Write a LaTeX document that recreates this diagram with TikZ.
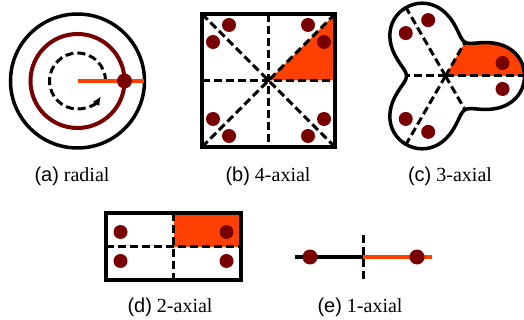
\documentclass[tikz,border=0pt]{standalone}
\usepackage{fontspec}
\setmainfont{Liberation Serif}
\setsansfont{Liberation Sans}
\usepackage{tikz}
\usetikzlibrary{calc, arrows.meta, positioning}
\definecolor{fireorange}{RGB}{255,64,0}
\definecolor{darkmaroon}{RGB}{120,0,0}
\tikzset{
    axisline/.style={line width=3pt, dash pattern=on 8pt off 4pt},
    frameline/.style={line width=4pt},
    pointdot/.style={fill=darkmaroon},
    caption/.style={font=\fontsize{20}{24}\selectfont, inner sep=0pt}
}
\newcommand{\capt}[2]{\textsf{(#1)}~#2}
% trefoil radius
\newcommand{\lobe}[1]{(61+20*cos(3*#1)-2*cos(6*#1))}

\begin{document}
\begin{tikzpicture}[>={Latex[length=9pt,width=8pt]}, x=1pt, y=-1pt]
    \useasboundingbox (0,0) rectangle (524,320);

    % 1. radial
    \coordinate (ra) at (77.5,81);
    \draw[line width=3.5pt] (ra) circle[radius=67];
    \draw[darkmaroon, line width=4pt] (ra) circle[radius=47];
    \draw[axisline, ->] ($(ra)+(0:28)$) arc[start angle=0, end angle=-327, radius=28];
    \draw[fireorange, line width=3.5pt] (ra) -- ++(66,0);
    \fill[pointdot] ($(ra)+(47,0)$) circle[radius=7.5];
    \node[caption] (capa) at (72,176) {\capt{a}{radial}};

    % 2. 4-axial
    \coordinate (fa) at (268.5,80.5);
    \fill[fireorange] (fa) -- ++(66.5,-66.5) -- ++(0,66.5) -- cycle;
    \draw[axisline] ($(fa)+(-66.5,0)$) -- ($(fa)+(66.5,0)$);
    \draw[axisline] ($(fa)+(0,-66.5)$) -- ($(fa)+(0,66.5)$);
    \draw[axisline] ($(fa)+(-66.5,-66.5)$) -- ($(fa)+(66.5,66.5)$);
    \draw[axisline] ($(fa)+(-66.5,66.5)$) -- ($(fa)+(66.5,-66.5)$);
    \foreach \sx in {-1,1}
        \foreach \sy in {-1,1} {
            \fill[pointdot] ($(fa)+(\sx*39.5,\sy*55.5)$) circle[radius=7];
            \fill[pointdot] ($(fa)+(\sx*55.5,\sy*38.5)$) circle[radius=7];
        }
    \draw[frameline] ($(fa)+(-66.5,-66.5)$) rectangle ($(fa)+(66.5,66.5)$);
    \node[caption] (capb) at (268,176) {\capt{b}{4-axial}};

    % 3. 3-axial
    \coordinate (ta) at (445.5,76);
    \fill[fireorange] (ta) -- plot[domain=0:-60, samples=30, smooth]
        ({445.5+\lobe{\x}*cos(\x)}, {76+\lobe{\x}*sin(\x)}) -- cycle;
    \foreach \a in {0,60,...,300}
        \draw[axisline] (ta) -- ({445.5+\lobe{\a}*cos(\a)}, {76+\lobe{\a}*sin(\a)});
    \foreach \a in {0,120,240} {
        \fill[pointdot] ($(ta)+(\a+12.8:58.5)$) circle[radius=7];
        \fill[pointdot] ($(ta)+(\a-12.8:58.5)$) circle[radius=7];
    }
    \draw[line width=3.5pt] plot[domain=0:360, samples=121, smooth]
        ({445.5+\lobe{\x}*cos(\x)}, {76+\lobe{\x}*sin(\x)}) -- cycle;
    \node[caption] (capc) at (450,176) {\capt{c}{3-axial}};

    % 4. 2-axial
    \coordinate (da) at (173.5,246.5);
    \fill[fireorange] ($(da)+(0,-33.5)$) rectangle ($(da)+(67.5,0)$);
    \draw[axisline] ($(da)+(-67.5,0)$) -- ($(da)+(67.5,0)$);
    \draw[axisline] ($(da)+(0,-33.5)$) -- ($(da)+(0,33.5)$);
    \foreach \sx in {-1,1}
        \foreach \sy in {-1,1}
            \fill[pointdot] ($(da)+(\sx*53,\sy*14.5)$) circle[radius=7];
    \draw[frameline] ($(da)+(-67.5,-33.5)$) rectangle ($(da)+(67.5,33.5)$);
    \node[caption] (capd) at (170,307) {\capt{d}{2-axial}};

    % 5. 1-axial
    \coordinate (oa) at (363,257);
    \draw[line width=3.5pt] (oa) -- ++(-68,0);
    \draw[fireorange, line width=3.5pt] (oa) -- ++(69,0);
    \draw[axisline] ($(oa)+(0,-22)$) -- ($(oa)+(0,24)$);
    \fill[pointdot] ($(oa)+(-53,0)$) circle[radius=7.5];
    \fill[pointdot] ($(oa)+(54,0)$) circle[radius=7.5];
    \node[caption] (cape) at (360,307) {\capt{e}{1-axial}};
\end{tikzpicture}
\end{document}
